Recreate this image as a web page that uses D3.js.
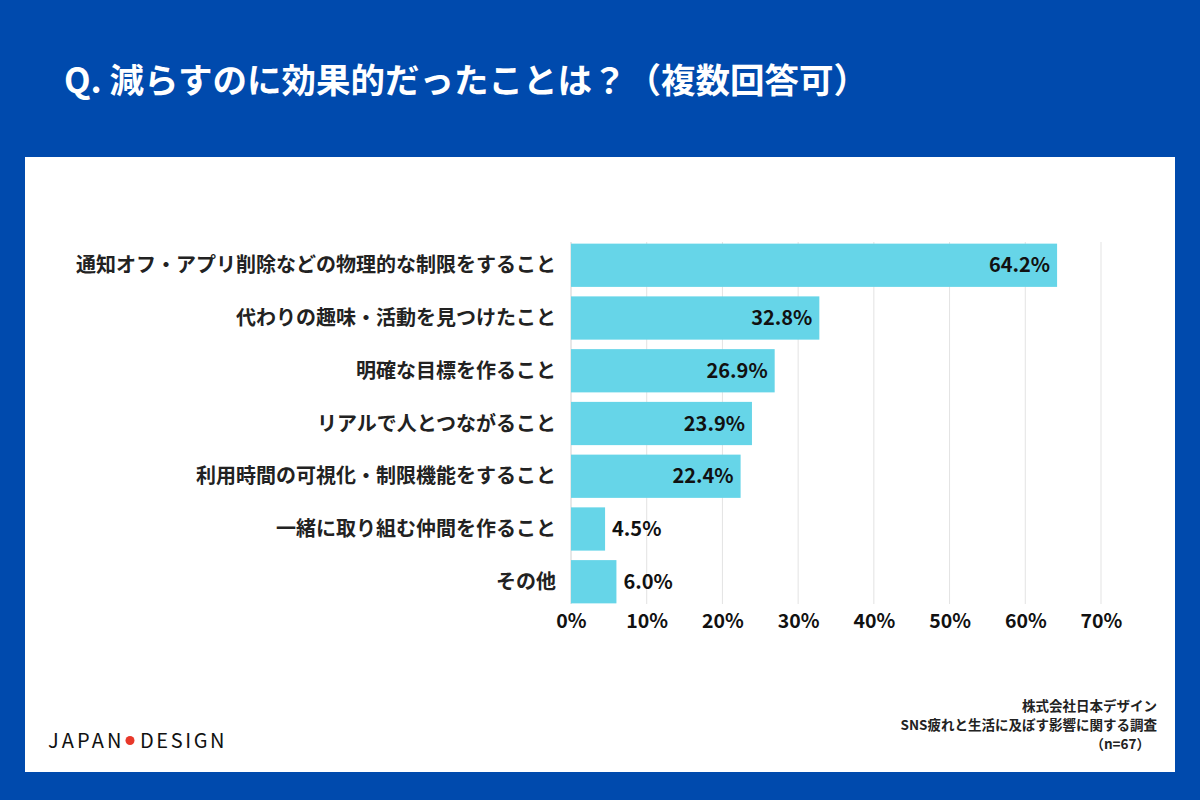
<!DOCTYPE html>
<html>
<head>
<meta charset="utf-8">
<script src="https://cdn.jsdelivr.net/npm/d3@7"></script>
<style>
  body { margin: 0; background: #004aad; }
  text { font-family: "Noto Sans CJK JP", "Noto Sans", sans-serif; }
</style>
</head>
<body>
<script>
var categories = [
  "通知オフ・アプリ削除などの物理的な制限をすること",
  "代わりの趣味・活動を見つけたこと",
  "明確な目標を作ること",
  "リアルで人とつながること",
  "利用時間の可視化・制限機能をすること",
  "一緒に取り組む仲間を作ること",
  "その他"
];
var values = [64.2, 32.8, 26.9, 23.9, 22.4, 4.5, 6.0];
var ticks = [0, 10, 20, 30, 40, 50, 60, 70];
var title = "Q. 減らすのに効果的だったことは？（複数回答可）";
var sourceLines = ["株式会社日本デザイン", "SNS疲れと生活に及ぼす影響に関する調査", "（n=67）"];

var W = 1200, H = 800;
var barColor = "#66d5e8";

var svg = d3.select("body").append("svg")
    .attr("width", W)
    .attr("height", H);

svg.append("rect").attr("width", W).attr("height", H).attr("fill", "#004aad");
svg.append("rect")
    .attr("x", 25).attr("y", 157)
    .attr("width", 1150).attr("height", 615)
    .attr("fill", "#fff");

svg.append("text")
    .attr("x", 64).attr("y", 93)
    .attr("fill", "#fff")
    .attr("font-size", 34.5)
    .attr("font-weight", 700)
    .text(title);

var x = d3.scaleLinear([0, 70], [571, 1101]);
var y = d3.scaleBand(categories, [241, 606]).paddingInner(0.18).paddingOuter(0.05);

// grid
svg.append("g")
    .selectAll("line")
    .data(ticks.slice(1))
    .join("line")
    .attr("x1", d => x(d)).attr("x2", d => x(d))
    .attr("y1", 242).attr("y2", 604)
    .attr("stroke", "#e3e3e3")
    .attr("stroke-width", 1);

svg.append("line")
    .attr("x1", x(0)).attr("x2", x(0))
    .attr("y1", 242).attr("y2", 604)
    .attr("stroke", "#d0d0d0");

// bars
svg.append("g")
    .selectAll("rect")
    .data(values)
    .join("rect")
    .attr("x", x(0))
    .attr("y", (d, i) => y(categories[i]))
    .attr("width", d => x(d) - x(0))
    .attr("height", y.bandwidth())
    .attr("fill", barColor);

// value labels
svg.append("g")
    .selectAll("text")
    .data(values)
    .join("text")
    .attr("x", d => d > 10 ? x(d) - 7 : x(d) + 7)
    .attr("y", (d, i) => y(categories[i]) + y.bandwidth() / 2)
    .attr("dy", "0.36em")
    .attr("text-anchor", d => d > 10 ? "end" : "start")
    .attr("font-size", 20)
    .attr("font-weight", 700)
    .attr("fill", "#111")
    .text(d => d.toFixed(1) + "%");

// category labels
svg.append("g")
    .selectAll("text")
    .data(categories)
    .join("text")
    .attr("x", 556)
    .attr("y", d => y(d) + y.bandwidth() / 2)
    .attr("dy", "0.36em")
    .attr("text-anchor", "end")
    .attr("font-size", 20)
    .attr("font-weight", 700)
    .attr("fill", "#222")
    .text(d => d);

// x axis
var xAxis = g => g
    .attr("transform", "translate(0, 606)")
    .call(d3.axisBottom(x).tickValues(ticks).tickFormat(d => d + "%").tickSize(0).tickPadding(8))
    .call(g => g.select(".domain").remove())
    .call(g => g.selectAll("text")
        .attr("font-size", 19.5)
        .attr("font-weight", 700)
        .attr("fill", "#111")
        .attr("font-family", "\"Noto Sans CJK JP\", sans-serif"));
svg.append("g").call(xAxis);

// source
svg.append("g")
    .selectAll("text")
    .data(sourceLines)
    .join("text")
    .attr("x", d => d.startsWith("（") ? 1150 : 1157)
    .attr("y", (d, i) => 711 + i * 19)
    .attr("text-anchor", "end")
    .attr("font-size", 13.5)
    .attr("font-weight", 700)
    .attr("fill", "#222")
    .text(d => d);

// logo
var logo = svg.append("g").attr("transform", "translate(48, 748)");
logo.append("text")
    .attr("x", 0).attr("y", 0)
    .attr("font-family", "\"Open Sans\", sans-serif")
    .attr("font-size", 20)
    .attr("font-weight", 400)
    .attr("letter-spacing", 3.1)
    .attr("fill", "#111")
    .text("JAPAN");
logo.append("circle")
    .attr("cx", 82).attr("cy", -7.5)
    .attr("r", 4.5)
    .attr("fill", "#e8382a");
logo.append("text")
    .attr("x", 92).attr("y", 0)
    .attr("font-family", "\"Open Sans\", sans-serif")
    .attr("font-size", 20)
    .attr("font-weight", 400)
    .attr("letter-spacing", 2.6)
    .attr("fill", "#111")
    .text("DESIGN");
</script>
</body>
</html>
